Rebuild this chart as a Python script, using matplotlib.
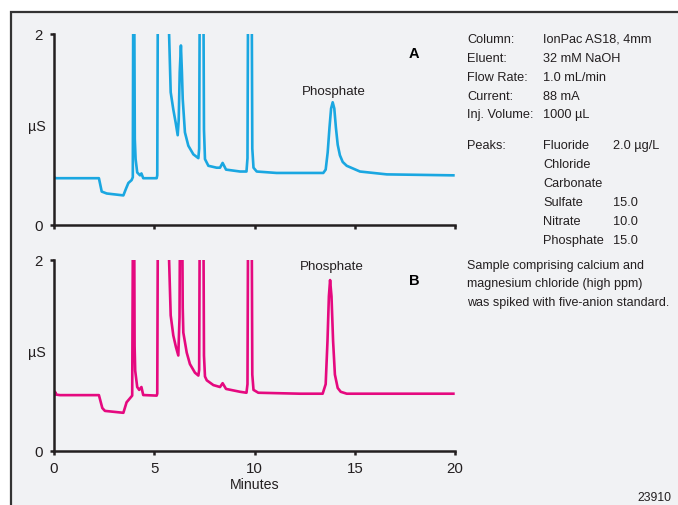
import matplotlib
matplotlib.use("Agg")
import matplotlib.pyplot as plt
from matplotlib.patches import Rectangle

# =========================================================
# DATA
# =========================================================

# trace A: retention time (min) and signal (uS); 3.0 = off scale
time_a = [0.0, 0.1, 2.24, 2.38, 2.63, 3.46, 3.59, 3.71, 3.87, 3.93, 3.96, 3.99,
          4.03, 4.07, 4.15, 4.29, 4.36, 4.45, 5.12, 5.15, 5.19, 5.70, 5.74, 5.82,
          5.95, 6.07, 6.17, 6.22, 6.27, 6.33, 6.38, 6.42, 6.53, 6.70, 6.95, 7.20,
          7.24, 7.28, 7.44, 7.48, 7.53, 7.70, 8.11, 8.28, 8.41, 8.58, 9.28, 9.60,
          9.65, 9.69, 9.85, 9.89, 9.95, 10.11, 11.1, 13.43, 13.55, 13.65, 13.74,
          13.82, 13.9, 13.98, 14.06, 14.15, 14.26, 14.4, 14.6, 15.26, 16.6, 19.92]
signal_a = [0.50, 0.49, 0.49, 0.35, 0.33, 0.31, 0.38, 0.44, 0.47, 0.50, 3.0, 3.0,
            0.90, 0.69, 0.55, 0.52, 0.54, 0.49, 0.49, 0.52, 3.0, 3.0, 2.0, 1.39,
            1.21, 1.07, 0.94, 1.10, 1.60, 1.88, 1.60, 1.32, 0.97, 0.83, 0.74, 0.70,
            0.80, 3.0, 3.0, 1.0, 0.69, 0.62, 0.60, 0.60, 0.65, 0.58, 0.56, 0.56,
            0.70, 3.0, 3.0, 0.80, 0.60, 0.56, 0.545, 0.545, 0.58, 0.76, 1.02,
            1.22, 1.285, 1.22, 1.02, 0.84, 0.73, 0.66, 0.62, 0.56, 0.53, 0.52]

# trace B
time_b = [0.0, 0.05, 0.12, 0.3, 2.24, 2.41, 2.54, 3.46, 3.62, 3.82, 3.90, 3.95,
          3.99, 4.02, 4.05, 4.15, 4.25, 4.36, 4.45, 5.12, 5.15, 5.19, 5.70, 5.74,
          5.82, 5.95, 6.08, 6.20, 6.26, 6.30, 6.38, 6.42, 6.45, 6.62, 6.78, 7.03,
          7.20, 7.24, 7.28, 7.44, 7.48, 7.53, 7.62, 7.95, 8.28, 8.41, 8.58, 9.28,
          9.60, 9.65, 9.69, 9.85, 9.89, 9.95, 10.19, 12.27, 13.4, 13.55, 13.64,
          13.71, 13.77, 13.84, 13.92, 14.01, 14.15, 14.3, 14.6, 19.92]
signal_b = [0.58, 0.62, 0.59, 0.585, 0.585, 0.45, 0.42, 0.40, 0.51, 0.56, 0.58, 3.0,
            3.0, 1.10, 0.84, 0.67, 0.64, 0.67, 0.586, 0.58, 0.60, 3.0, 3.0, 2.0,
            1.42, 1.21, 1.09, 1.0, 1.40, 3.0, 3.0, 1.50, 1.24, 1.03, 0.91, 0.82,
            0.79, 0.85, 3.0, 3.0, 1.0, 0.78, 0.74, 0.69, 0.67, 0.71, 0.65, 0.62,
            0.61, 0.70, 3.0, 3.0, 0.80, 0.64, 0.61, 0.60, 0.60, 0.70, 1.15,
            1.62, 1.79, 1.62, 1.15, 0.80, 0.66, 0.62, 0.60, 0.60]

x_ticks = [0, 5, 10, 15, 20]
y_ticks = [0, 2]

param_labels = ["Column:", "Eluent:", "Flow Rate:", "Current:", "Inj. Volume:"]
param_values = ["IonPac AS18, 4mm", "32 mM NaOH", "1.0 mL/min", "88 mA", "1000 µL"]
peak_names = ["Fluoride", "Chloride", "Carbonate", "Sulfate", "Nitrate", "Phosphate"]
peak_amounts = ["2.0 µg/L", "", "", "15.0", "10.0", "15.0"]
sample_note = ["Sample comprising calcium and",
               "magnesium chloride (high ppm)",
               "was spiked with five-anion standard."]

# =========================================================
# STYLE
# =========================================================

plt.rcParams["font.family"] = ["Liberation Sans", "DejaVu Sans"]
plt.rcParams["font.size"] = 9.2
TXT = "#231f20"
BG = "#f1f2f4"
W, H = 678, 506

fig = plt.figure(figsize=(W / 100, H / 100), dpi=100)
fig.patch.set_facecolor("white")

# frame with grey fill (only left and top edges are visible)
fig.add_artist(Rectangle((11 / W, -0.05), 1.2, 1 - 13 / H + 0.05,
                         transform=fig.transFigure, facecolor=BG,
                         edgecolor="#333333", linewidth=1.6, zorder=-10))


def px(x, y):
    return x / W, 1 - y / H


def make_axes(top_px, bottom_px):
    ax = fig.add_axes([54 / W, 1 - bottom_px / H, 401 / W, (bottom_px - top_px) / H])
    ax.set_facecolor("none")
    for s in ["top", "right"]:
        ax.spines[s].set_visible(False)
    for s in ["left", "bottom"]:
        ax.spines[s].set_linewidth(1.8)
        ax.spines[s].set_color("#231f20")
    ax.set_xlim(0, 20)
    ax.set_ylim(0, 2)
    ax.set_xticks(x_ticks)
    ax.set_yticks(y_ticks)
    ax.tick_params(direction="out", length=3, width=1.8, colors=TXT,
                   labelsize=10.8)
    ax.tick_params(axis="y", pad=5)
    ax.tick_params(axis="x", pad=4)
    ax.text(-0.043, 0.52, "µS", transform=ax.transAxes, ha="center",
            va="center", color=TXT, fontsize=10.3)
    return ax


# =========================================================
# PANEL A
# =========================================================

ax_a = make_axes(35, 226)
ax_a.plot(time_a, signal_a, color="#1aa7e1", linewidth=1.9,
          solid_joinstyle="round")
ax_a.tick_params(axis="x", labelbottom=False)
ax_a.text(13.95, 1.4, "Phosphate", ha="center", va="center", color=TXT,
          fontsize=9.6)
ax_a.text(17.95, 1.8, "A", ha="center", va="center", color="black",
          fontweight="bold", fontsize=10.5)

# =========================================================
# PANEL B
# =========================================================

ax_b = make_axes(261, 452)
ax_b.plot(time_b, signal_b, color="#e5097f", linewidth=1.9,
          solid_joinstyle="round")
ax_b.text(13.85, 1.94, "Phosphate", ha="center", va="center", color=TXT,
          fontsize=9.6)
ax_b.text(17.95, 1.79, "B", ha="center", va="center", color="black",
          fontweight="bold", fontsize=10.5)

fig.text(*px(255, 485), "Minutes", ha="center", va="center", color=TXT,
         fontsize=10.2)

# =========================================================
# CONDITIONS TEXT
# =========================================================

row = 18.85
for i, (lab, val) in enumerate(zip(param_labels, param_values)):
    y = 43 + i * row
    fig.text(*px(467, y), lab, va="baseline", color=TXT)
    fig.text(*px(543, y), val, va="baseline", color=TXT)

fig.text(*px(467, 149.5), "Peaks:", va="baseline", color=TXT)
for i, (name, amt) in enumerate(zip(peak_names, peak_amounts)):
    y = 149.5 + i * row
    fig.text(*px(543, y), name, va="baseline", color=TXT)
    if amt:
        fig.text(*px(613, y), amt, va="baseline", color=TXT)

for i, line in enumerate(sample_note):
    fig.text(*px(467, 268.5 + i * row), line, va="baseline", color=TXT,
             fontsize=9.0)

fig.text(*px(671, 501), "23910", ha="right", va="baseline", color=TXT,
         fontsize=8.8)

fig.savefig("out.png", dpi=100, facecolor=fig.get_facecolor())
